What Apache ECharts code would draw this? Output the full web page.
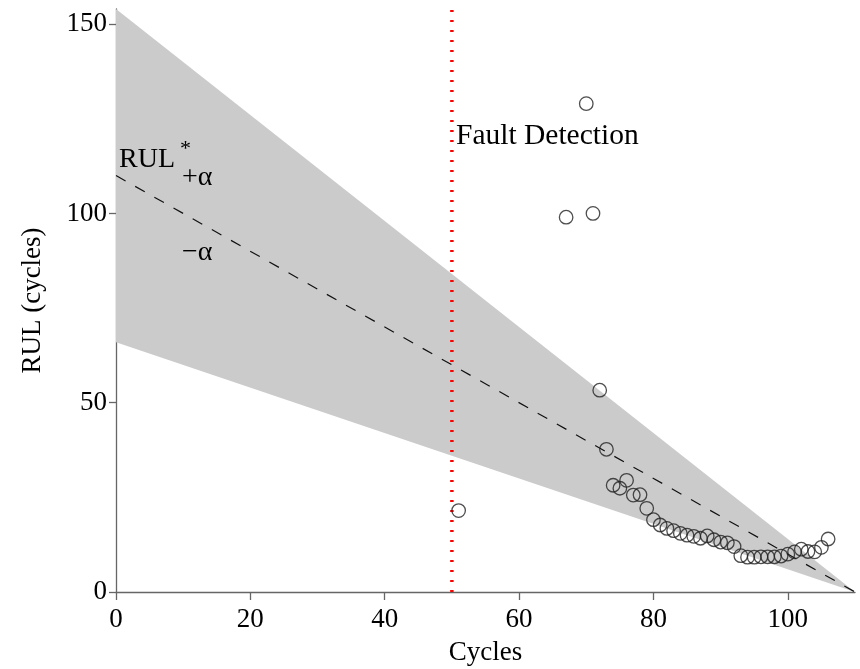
<!DOCTYPE html>
<html>
<head>
<meta charset="utf-8">
<script src="https://cdn.jsdelivr.net/npm/echarts@6/dist/echarts.min.js"></script>
<style>html,body{margin:0;padding:0;background:#fff}#c{width:860px;height:669px}</style>
</head>
<body>
<div id="c"></div>
<script>
// ---- data ----
var cycles = [51, 67, 70, 71, 72, 73, 74, 75, 76, 77, 78, 79, 80, 81, 82, 83, 84, 85, 86, 87, 88, 89, 90, 91, 92, 93, 94, 95, 96, 97, 98, 99, 100, 101, 102, 103, 104, 105, 106];
var rulPred = [21.5, 99, 129, 100, 53.3, 37.7, 28.2, 27.4, 29.5, 25.6, 25.7, 22.1, 19.1, 17.7, 16.8, 16.2, 15.5, 15, 14.7, 14.2, 14.8, 13.8, 13.2, 13, 12, 9.6, 9.2, 9.2, 9.3, 9.3, 9.3, 9.5, 10, 10.6, 11.3, 10.7, 10.6, 11.8, 14];
var trueX = [0, 110];
var trueRUL = [110, 0];
var bandUpper = [154, 0];
var bandLower = [66, 0];
var faultX = [50, 50];
var faultY = [0, 154];
var xTicks = [0, 20, 40, 60, 80, 100];
var yTicks = [0, 50, 100, 150];

var FONT = "'Liberation Serif','Times New Roman',serif";
var chart = echarts.init(document.getElementById('c'), null, {renderer: 'canvas'});

function zip(a, b) { return a.map(function (v, i) { return [v, b[i]]; }); }

var option = {
  backgroundColor: '#fff',
  animation: false,
  grid: {left: 116, right: 5, top: 9, bottom: 77, containLabel: false, outerBoundsMode: 'none'},
  xAxis: {
    type: 'value', min: 0, max: 110,
    name: 'Cycles', nameLocation: 'middle', nameGap: 47,
    nameTextStyle: {fontFamily: FONT, fontSize: 27, color: '#000'},
    axisLine: {show: true, onZero: false, lineStyle: {color: '#666', width: 1.3}},
    axisTick: {show: true, length: 8, inside: false, customValues: xTicks, lineStyle: {color: '#666', width: 1.3}},
    axisLabel: {customValues: xTicks, fontFamily: FONT, fontSize: 27, color: '#000', margin: 14},
    splitLine: {show: false}
  },
  yAxis: {
    type: 'value', min: 0, max: 154,
    name: 'RUL (cycles)', nameLocation: 'middle', nameGap: 70, nameRotate: 90,
    nameTextStyle: {fontFamily: FONT, fontSize: 27, color: '#000'},
    axisLine: {show: true, onZero: false, lineStyle: {color: '#666', width: 1.3}},
    axisTick: {show: true, length: 7, inside: false, customValues: yTicks, lineStyle: {color: '#666', width: 1.3}},
    axisLabel: {customValues: yTicks, fontFamily: FONT, fontSize: 27, color: '#000', margin: 9},
    splitLine: {show: false}
  },
  series: [
    {
      type: 'custom', z: 1, silent: true,
      data: [0],
      renderItem: function (params, api) {
        var pts = [];
        for (var i = 0; i < trueX.length; i++) pts.push(api.coord([trueX[i], bandUpper[i]]));
        for (var j = trueX.length - 1; j >= 0; j--) pts.push(api.coord([trueX[j], bandLower[j]]));
        return {type: 'polygon', shape: {points: pts}, style: {fill: '#cbcbcb', stroke: null}};
      }
    },
    {
      type: 'line', z: 2, data: zip(trueX, trueRUL), symbol: 'none', silent: true,
      lineStyle: {color: '#111', width: 1.2, type: [11, 11]}
    },
    {
      type: 'line', z: 3, data: zip(faultX, faultY), symbol: 'none', silent: true,
      lineStyle: {color: '#ff0000', width: 3.5, type: [2, 8]}
    },
    {
      type: 'scatter', z: 4, data: zip(cycles, rulPred), symbol: 'circle', symbolSize: 13.5,
      itemStyle: {color: 'rgba(0,0,0,0)', borderColor: '#222', borderWidth: 1.3}
    }
  ],
  graphic: [
    {type: 'text', left: 456, top: 121, z: 10, style: {text: 'Fault Detection', font: '29.5px ' + FONT, fill: '#000'}},
    {type: 'text', left: 119, top: 146, z: 10, style: {text: 'RUL', font: '28px ' + FONT, fill: '#000'}},
    {type: 'text', left: 180, top: 138, z: 10, style: {text: '*', font: '22px ' + FONT, fill: '#000'}},
    {type: 'text', left: 182, top: 164, z: 10, style: {text: '+\u03b1', font: '28px ' + FONT, fill: '#000'}},
    {type: 'text', left: 182, top: 239, z: 10, style: {text: '\u2212\u03b1', font: '28px ' + FONT, fill: '#000'}}
  ]
};
chart.setOption(option);
</script>
</body>
</html>
